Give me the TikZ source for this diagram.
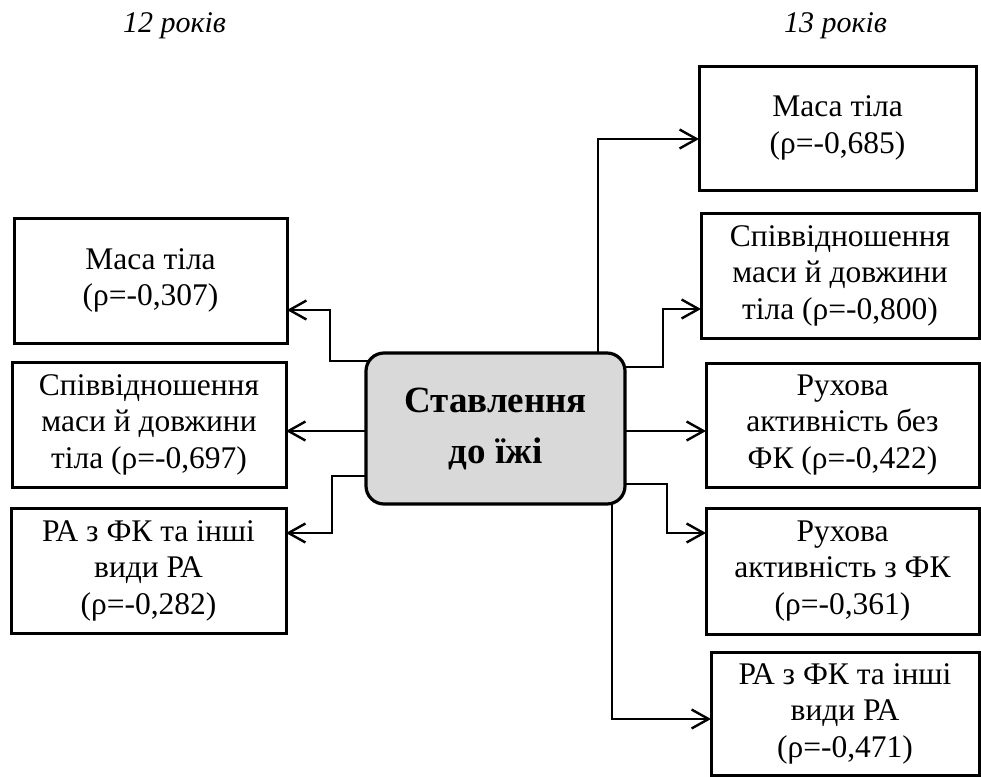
\documentclass[tikz,border=0pt]{standalone}
\usepackage{fontspec}
\setmainfont{Liberation Serif}
\usetikzlibrary{arrows.meta,backgrounds}
\definecolor{hubgray}{RGB}{217,217,217}
\begin{document}
\begin{tikzpicture}[x=1pt,y=-1pt,
  box/.style={draw, line width=3pt, inner sep=0pt, outer sep=0pt, align=center,
    font=\fontsize{31.5}{36.5}\selectfont},
  hub/.style={draw, line width=3.2pt, rounded corners=18pt, fill=hubgray, inner sep=0pt,
    outer sep=0pt, align=center, font=\bfseries\fontsize{37}{51}\selectfont},
  title/.style={anchor=base, inner sep=0pt, font=\itshape\fontsize{30}{36}\selectfont},
  conn/.style={line width=2.4pt, -{Straight Barb[length=17pt,width=19pt,line width=2.4pt]}}
]
\useasboundingbox (0,0) rectangle (981,776);

\node[title] (T12) at (174.5,33) {12 років};
\node[title] (T13) at (835.5,33) {13 років};

\node[hub, minimum width=259pt, minimum height=151pt] (C) at (495.5,428.5) {Ставлення\\до їжі};

\node[box, minimum width=273pt, minimum height=125pt] (L1) at (150.5,280.5) {Маса тіла\\(ρ=-0,307)};
\node[box, minimum width=274pt, minimum height=125pt] (L2) at (149,424.5) {Співвідношення\\маси й довжини\\тіла (ρ=-0,697)};
\node[box, minimum width=275pt, minimum height=125pt] (L3) at (148.5,570.5) {РА з ФК та інші\\види РА\\(ρ=-0,282)};

\node[box, minimum width=277pt, minimum height=124pt] (R1) at (837.5,128) {Маса тіла\\(ρ=-0,685)};
\node[box, minimum width=278pt, minimum height=125pt] (R2) at (840,275.5) {Співвідношення\\маси й довжини\\тіла (ρ=-0,800)};
\node[box, minimum width=273pt, minimum height=124pt] (R3) at (842.5,425) {Рухова\\активність без\\ФК (ρ=-0,422)};
\node[box, minimum width=273pt, minimum height=126pt] (R4) at (842.5,571) {Рухова\\активність з ФК\\(ρ=-0,361)};
\node[box, minimum width=268pt, minimum height=123pt] (R5) at (845,713.5) {РА з ФК та інші\\види РА\\(ρ=-0,471)};

\begin{scope}[on background layer]
\draw[conn] (C.center |- 0,361) -| (330,310) -- (L1.east |- 0,310);
\draw[conn] (C.center |- 0,431) -- (L2.east |- 0,431);
\draw[conn] (C.center |- 0,476) -| (332,533) -- (L3.east |- 0,533);
\draw[conn] (C.center -| 598,0) |- (R1.west |- 0,139);
\draw[conn] (C.center |- 0,367) -| (663,309) -- (R2.west |- 0,309);
\draw[conn] (C.center |- 0,431) -- (R3.west |- 0,431);
\draw[conn] (C.center |- 0,484) -| (667,533) -- (R4.west |- 0,533);
\draw[conn] (C.center -| 612,0) |- (R5.west |- 0,719);
\end{scope}
\end{tikzpicture}
\end{document}
